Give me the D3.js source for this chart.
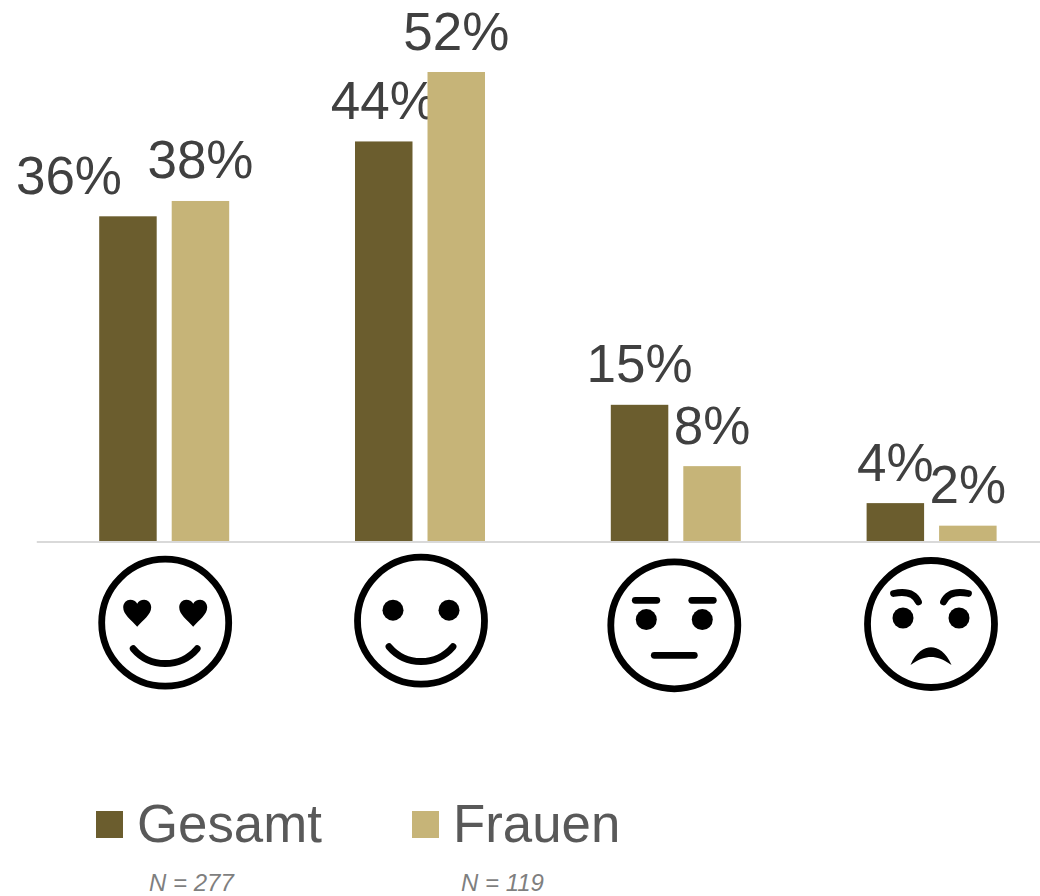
<!DOCTYPE html>
<html><head><meta charset="utf-8">
<script src="https://cdnjs.cloudflare.com/ajax/libs/d3/7.8.5/d3.min.js"></script>
<style>html,body{margin:0;padding:0;background:#fff;overflow:hidden}svg{display:block}text{font-family:"Liberation Sans",Arial,sans-serif}</style>
</head><body><svg id="c" width="1040" height="896"></svg>
<script>
const categories = ["love","happy","neutral","angry"];
const seriesNames = ["Gesamt","Frauen"];
const seriesN = ["N = 277","N = 119"];
const gesamt = [36, 44.3, 15.1, 4.2];
const frauen = [37.7, 52, 8.3, 1.7];
const gesamtLabels = ["36%","44%","15%","4%"];
const frauenLabels = ["38%","52%","8%","2%"];
const colors = ["#6b5d2e","#c6b478"];

const svg = d3.select("#c");
const H = 541;
const x = d3.scaleBand().domain(categories).range([36.3,1059.5]);
const y = d3.scaleLinear().domain([0,52]).range([H,72]);
const sub = d3.scaleBand().domain(seriesNames).range([-65,65]).paddingInner(0.207).paddingOuter(0);

const axis = svg.append("g").attr("transform",`translate(0,${H+0.5})`)
  .call(d3.axisBottom(x).tickSize(0).tickFormat(""));
axis.select(".domain").attr("stroke","#d9d9d9").attr("stroke-width",2);

[gesamt,frauen].forEach((vals,s)=>{
  const labels = s===0?gesamtLabels:frauenLabels;
  const g = svg.append("g");
  g.selectAll("rect").data(vals).join("rect")
    .attr("x",(d,i)=>x(categories[i])+x.bandwidth()/2+sub(seriesNames[s]))
    .attr("width",sub.bandwidth())
    .attr("y",d=>y(d)).attr("height",d=>H-y(d))
    .attr("fill",colors[s]);
  g.selectAll("text").data(vals).join("text")
    .attr("x",(d,i)=>x(categories[i])+x.bandwidth()/2+sub(seriesNames[s])+sub.bandwidth()/2+((s===0&&i===0)?-59:0))
    .attr("y",d=>y(d)-22.5)
    .attr("text-anchor","middle").attr("font-size",53).attr("fill","#404040")
    .text((d,i)=>labels[i]);
});

// face icons
const faceOffset = {love:[1,81.7],happy:[1,79.7],neutral:[-1.5,84.3],angry:[-0.6,83]};
function stroke(g,d,w){g.append("path").attr("d",d).attr("fill","none").attr("stroke","#000").attr("stroke-width",w).attr("stroke-linecap","round");}
function fill(g,d){g.append("path").attr("d",d).attr("fill","#000");}
function dot(g,cx,cy){g.append("circle").attr("cx",cx).attr("cy",cy).attr("r",10.5).attr("fill","#000");}
const heart = "M0,4 C-6,-3 -14,-8 -14,-15.5 C-14,-20 -10.5,-23 -7,-23 C-4,-23 -1.2,-21.5 0,-19 C1.2,-21.5 4,-23 7,-23 C10.5,-23 14,-20 14,-15.5 C14,-8 6,-3 0,4Z";
const draw = {
  love(g){
    [-28,28].forEach(dx=>fill(g.append("g").attr("transform",`translate(${dx},0)`),heart));
    stroke(g,"M-32,26 A42,42 0 0 0 32,26",6.8);
  },
  happy(g){
    dot(g,-28,-10.5);dot(g,28,-10.5);
    stroke(g,"M-32,26 A42,42 0 0 0 32,26",6.8);
  },
  neutral(g){
    stroke(g,"M-39,-25 H-17.5",6.8);stroke(g,"M17.5,-25 H39",6.8);
    dot(g,-28,-5.7);dot(g,28,-5.7);
    stroke(g,"M-20,30 H20",6.8);
  },
  angry(g){
    stroke(g,"M-37.5,-30.5 C-28,-32.5 -17,-32 -12.5,-22",6.8);
    stroke(g,"M37.5,-30.5 C28,-32.5 17,-32 12.5,-22",6.8);
    dot(g,-28,-6);dot(g,28,-6);
    fill(g,"M-20.5,41 C-15,28 -7,23.3 0,23.3 C7,23.3 15,28 20.5,41 C12,35 6,33 0,33 C-6,33 -12,35 -20.5,41Z");
  }
};
categories.forEach(c=>{
  const [dx,dy]=faceOffset[c];
  const g=svg.append("g").attr("transform",`translate(${x(c)+x.bandwidth()/2+dx},${H+dy})`);
  g.append("circle").attr("r",63.5).attr("fill","#fff").attr("stroke","#000").attr("stroke-width",6.8);
  draw[c](g);
});

// legend
const lx=[96,412];
seriesNames.forEach((n,i)=>{
  svg.append("rect").attr("x",lx[i]).attr("y",811).attr("width",27).attr("height",27).attr("fill",colors[i]);
  svg.append("text").attr("x",lx[i]+41).attr("y",842).attr("font-size",52.8).attr("fill","#595959").text(n);
  svg.append("text").attr("x",lx[i]+(i===0?53:49)).attr("y",890.5).attr("font-size",24).attr("font-style","italic").attr("fill","#7f7f7f").text(seriesN[i]);
});
</script></body></html>
